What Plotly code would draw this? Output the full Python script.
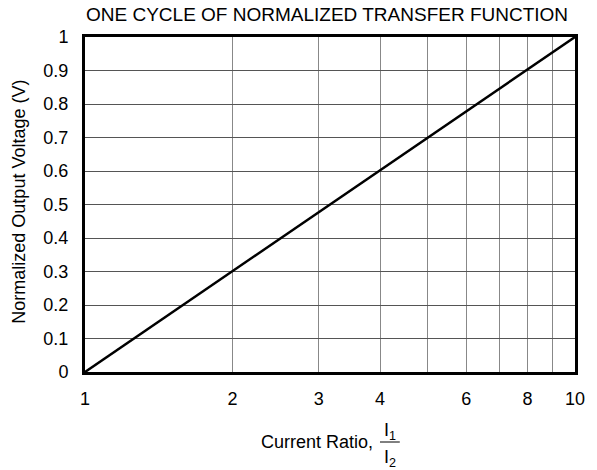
import plotly.graph_objects as go

# Data
x_vals = [1, 10]
y_vals = [0, 1]
x_tickvals = [1, 2, 3, 4, 6, 8, 10]
x_ticktext = ["1", "2", "3", "4", "6", "8", "10"]
x_minor_gridvals = [5, 7, 9]
y_tickvals = [0, 0.1, 0.2, 0.3, 0.4, 0.5, 0.6, 0.7, 0.8, 0.9, 1]
y_ticktext = ["0", "0.1", "0.2", "0.3", "0.4", "0.5", "0.6", "0.7", "0.8", "0.9", "1"]

FONT = "Liberation Sans, Arial, sans-serif"
W, H = 597, 470
L, R, T, B = 85, 17, 37, 98
PW = W - L - R
PH = H - T - B


def px(x):
    return (x - L) / PW


def py(y):
    return (H - B - y) / PH


fig = go.Figure()
fig.add_trace(go.Scatter(x=x_vals, y=y_vals, mode="lines",
                         line=dict(color="black", width=2.5), showlegend=False,
                         hoverinfo="skip"))

fig.update_layout(
    width=W, height=H,
    margin=dict(l=L, r=R, t=T, b=B),
    paper_bgcolor="white", plot_bgcolor="white",
    font=dict(family=FONT, size=18, color="black"),
    xaxis=dict(type="log", range=[0, 1], tickvals=x_tickvals, ticktext=x_ticktext,
               showgrid=True, gridcolor="#888", gridwidth=1,
               minor=dict(tickvals=x_minor_gridvals, showgrid=True,
                          gridcolor="#888", gridwidth=1, ticks=""),
               showline=True, linecolor="black", linewidth=3, mirror=True,
               ticks="", ticklabelstandoff=8, zeroline=False,
               tickfont=dict(size=18)),
    yaxis=dict(range=[0, 1], tickvals=y_tickvals, ticktext=y_ticktext,
               showgrid=True, gridcolor="#555", gridwidth=1,
               showline=True, linecolor="black", linewidth=3, mirror=True,
               ticks="", ticklabelstandoff=10, zeroline=False,
               tickfont=dict(size=18)),
)

# Title
fig.add_annotation(text="ONE CYCLE OF NORMALIZED TRANSFER FUNCTION",
                   xref="paper", yref="paper", x=px(329), y=py(14),
                   showarrow=False, font=dict(size=19), xanchor="center", yanchor="middle")

# Y axis title
fig.add_annotation(text="Normalized Output Voltage (V)", xref="paper", yref="paper",
                   x=px(18), y=py(202), textangle=-90, showarrow=False,
                   font=dict(size=18), xanchor="center", yanchor="middle")

# X axis title with fraction
fig.add_annotation(text="Current Ratio,", xref="paper", yref="paper",
                   x=px(319), y=py(442), showarrow=False,
                   font=dict(size=18), xanchor="center", yanchor="middle")
fig.add_annotation(text="I<sub>1</sub>", xref="paper", yref="paper",
                   x=px(393), y=py(431), showarrow=False,
                   font=dict(size=18), xanchor="center", yanchor="middle")
fig.add_annotation(text="I<sub>2</sub>", xref="paper", yref="paper",
                   x=px(393), y=py(458), showarrow=False,
                   font=dict(size=18), xanchor="center", yanchor="middle")
fig.add_shape(type="line", xref="paper", yref="paper",
              x0=px(383), x1=px(403), y0=py(442), y1=py(442),
              line=dict(color="black", width=1))

fig.write_html("out.html", config={"displayModeBar": False},
               post_script="document.body.style.margin='0';")
